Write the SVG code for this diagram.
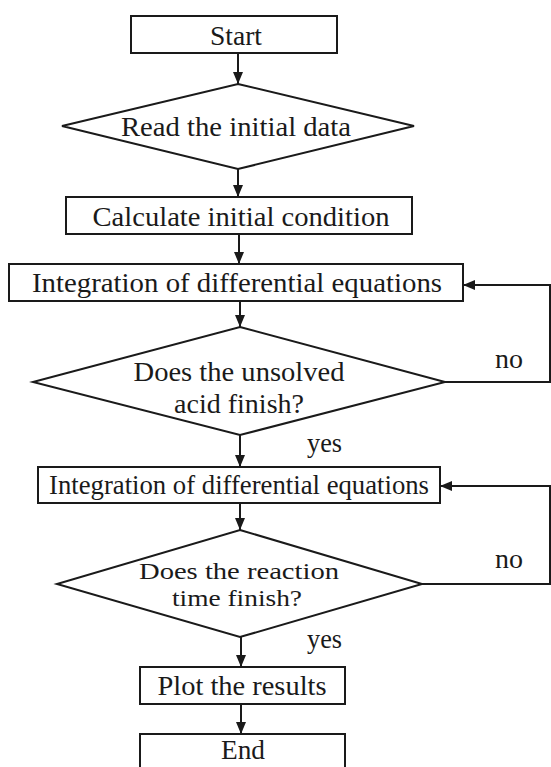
<svg xmlns="http://www.w3.org/2000/svg" width="551" height="767" viewBox="0 0 551 767">
<style>
.n{fill:#fff;stroke:#1a1a1a;stroke-width:2}
.c{fill:none;stroke:#1a1a1a;stroke-width:2}
text{font-family:'Liberation Serif','DejaVu Serif',serif;font-size:28px;fill:#1a1a1a;text-anchor:middle}
.lbl{font-size:27px;text-anchor:start}
.sm{font-size:24px}
</style>
<defs>
<marker id="ah" viewBox="0 0 12 10" refX="12" refY="5" markerWidth="12" markerHeight="10" markerUnits="userSpaceOnUse" orient="auto">
<path d="M0,0 L12,5 L0,10 Z" fill="#1a1a1a"/>
</marker>
</defs>
<rect width="551" height="767" fill="#fff"/>
<g id="connectors">
<path class="c" d="M238,53 V84" marker-end="url(#ah)"/>
<path class="c" d="M238,169 V197" marker-end="url(#ah)"/>
<path class="c" d="M239,234 V264" marker-end="url(#ah)"/>
<path class="c" d="M240,301 V327" marker-end="url(#ah)"/>
<path class="c" d="M240,435 V467" marker-end="url(#ah)"/>
<path class="c" d="M240,503 V530" marker-end="url(#ah)"/>
<path class="c" d="M241,637 V667" marker-end="url(#ah)"/>
<path class="c" d="M241,704 V734" marker-end="url(#ah)"/>
<path class="c" d="M445,382 H550 V285 H463" marker-end="url(#ah)"/>
<path class="c" d="M422,584 H550 V486 H440" marker-end="url(#ah)"/>
<text class="lbl" x="495" y="368" textLength="28" lengthAdjust="spacingAndGlyphs">no</text>
<text class="lbl" x="307" y="452" textLength="35" lengthAdjust="spacingAndGlyphs">yes</text>
<text class="lbl" x="495" y="568" textLength="28" lengthAdjust="spacingAndGlyphs">no</text>
<text class="lbl" x="307" y="648" textLength="35" lengthAdjust="spacingAndGlyphs">yes</text>
</g>
<g id="start">
<rect class="n" x="131" y="16" width="206" height="37"/>
<text x="236" y="45" textLength="52" lengthAdjust="spacingAndGlyphs">Start</text>
</g>
<g id="read">
<polygon class="n" points="238,84 414,126 238,169 62,126"/>
<text x="236" y="136" textLength="230" lengthAdjust="spacingAndGlyphs">Read the initial data</text>
</g>
<g id="calc">
<rect class="n" x="66" y="197" width="346" height="37"/>
<text x="241" y="226" textLength="297" lengthAdjust="spacingAndGlyphs">Calculate initial condition</text>
</g>
<g id="integ1">
<rect class="n" x="9" y="264" width="454" height="37"/>
<text x="237" y="292" textLength="410" lengthAdjust="spacingAndGlyphs">Integration of differential equations</text>
</g>
<g id="dec1">
<polygon class="n" points="240,327 445,382 240,435 33,382"/>
<text x="239" y="381" textLength="211" lengthAdjust="spacingAndGlyphs">Does the unsolved</text>
<text x="239" y="413" textLength="130" lengthAdjust="spacingAndGlyphs">acid finish?</text>
</g>
<g id="integ2">
<rect class="n" x="38" y="467" width="402" height="36"/>
<text x="239" y="494" textLength="380" lengthAdjust="spacingAndGlyphs">Integration of differential equations</text>
</g>
<g id="dec2">
<polygon class="n" points="240,530 422,584 240,637 57,584"/>
<text class="sm" x="239" y="579" textLength="200" lengthAdjust="spacingAndGlyphs">Does the reaction</text>
<text class="sm" x="237" y="606" textLength="130" lengthAdjust="spacingAndGlyphs">time finish?</text>
</g>
<g id="plot">
<rect class="n" x="140" y="667" width="205" height="37"/>
<text x="242" y="695" textLength="169" lengthAdjust="spacingAndGlyphs">Plot the results</text>
</g>
<g id="end">
<rect class="n" x="140" y="734" width="205" height="40"/>
<text x="243" y="759" textLength="44" lengthAdjust="spacingAndGlyphs">End</text>
</g>
</svg>
